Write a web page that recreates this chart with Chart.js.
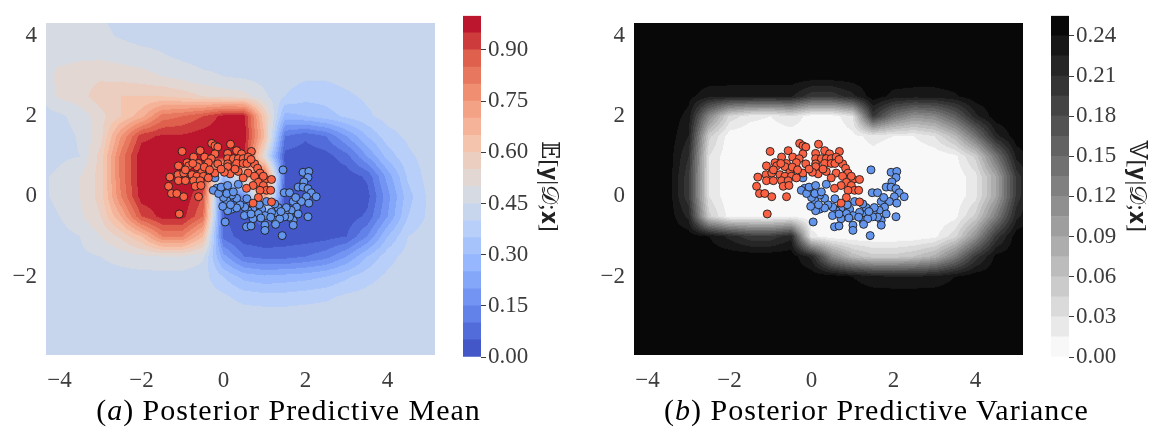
<!DOCTYPE html>
<html>
<head>
<meta charset="utf-8">
<script src="https://cdn.jsdelivr.net/npm/chart.js@4.4.0/dist/chart.umd.min.js"></script>
<style>
  body { margin: 0; background: #fff; width: 1154px; height: 434px; position: relative; overflow: hidden; }
  canvas { position: absolute; top: 0; }
  .cap { position: absolute; top: 393px; width: 577px; text-align: center; font: 30px "Liberation Serif", serif; letter-spacing: 1px; line-height: 34px; color: #000; }
</style>
</head>
<body>
<canvas id="meanPlot" width="440" height="400" style="left:0"></canvas>
<canvas id="meanBar" width="126" height="400" style="left:440px"></canvas>
<canvas id="varPlot" width="440" height="400" style="left:588px"></canvas>
<canvas id="varBar" width="126" height="400" style="left:1028px"></canvas>
<div class="cap" style="left:0">(<i>a</i>) Posterior Predictive Mean</div>
<div class="cap" style="left:588px">(<i>b</i>) Posterior Predictive Variance</div>
<script>
// axis ticks
const xTicks = [-4, -2, 0, 2, 4];
const yTicks = [-2, 0, 2, 4];
const meanTicks = [0, 0.15, 0.3, 0.45, 0.6, 0.75, 0.9];
const varTicks = [0, 0.03, 0.06, 0.09, 0.12, 0.15, 0.18, 0.21, 0.24];

// contour levels
const meanLevels = [0, 0.05, 0.1, 0.15, 0.2, 0.25, 0.3, 0.35, 0.4, 0.45, 0.5, 0.55, 0.6, 0.65, 0.7, 0.75, 0.8, 0.85, 0.9, 0.95, 1.0];
const varLevels = [0, 0.015, 0.03, 0.045, 0.06, 0.075, 0.09, 0.105, 0.12, 0.135, 0.15, 0.165, 0.18, 0.195, 0.21, 0.225, 0.24, 0.255];

// training points (two moons)
const redX = [-1.01, -0.57, -0.29, -0.21, -0.14, 0.17, 0.32, 0.44, 0.68, 0.10, -0.21, -0.73, -0.46, -0.30, 0.10, 0.24, 0.36, 0.48, 0.60, 0.76,
  -0.89, -0.61, -0.37, -0.14, 0.10, 0.32, 0.48, 0.83, -1.10, -0.85, -0.65, -0.53, -0.21, 0.16, 0.36, 0.60, 0.89, 1.01, -1.31, -1.11,
  -0.97, -0.77, -0.65, -0.49, -0.37, -1.10, -0.93, -0.73, -0.57, 0.76, 0.97, 1.17, 0.85, 0.97, 1.05, -1.34, -0.69, -0.55, -1.27, -1.14,
  -0.97, -0.61, 0.48, 0.72, 0.89, 0.56, 0.85, 0.72, 1.17, -1.08, 0.10, 0.16, 0.28, -0.93, -0.47, 0.02, 1.15, -0.06, 0.57, -0.34,
  -0.75, 0.67];
const redY = [1.12, 1.14, 1.32, 1.26, 1.23, 1.30, 1.14, 1.06, 1.12, 1.07, 1.06, 0.98, 0.98, 0.94, 0.94, 0.94, 0.94, 0.94, 0.98, 0.81,
  0.84, 0.82, 0.84, 0.81, 0.81, 0.82, 0.82, 0.70, 0.76, 0.76, 0.74, 0.60, 0.58, 0.62, 0.62, 0.58, 0.58, 0.42, 0.48, 0.54,
  0.58, 0.54, 0.50, 0.50, 0.46, 0.39, 0.39, 0.39, 0.39, 0.50, 0.50, 0.42, 0.35, 0.27, 0.15, 0.25, 0.25, 0.27, 0.07, 0.07,
  -0.01, -0.01, 0.46, 0.27, 0.15, 0.20, -0.03, -0.17, -0.14, -0.44, 0.74, 0.56, 0.68, 0.66, 0.73, 0.60, 0.15, 0.68, 0.82, 0.66,
  0.82, 0.92];
const blueX = [1.45, 1.94, 2.08, 2.06, 1.96, 1.82, 1.94, 2.06, 2.14, 2.26, 2.02, 1.90, 1.70, 1.78, 1.65, 1.48, 1.61, 2.06, 1.70, 1.43,
  1.29, 1.17, 1.33, 1.51, 1.25, 1.05, 0.93, 1.01, 0.85, 0.72, 0.60, 0.51, 0.56, 0.72, 1.01, 1.01, 1.25, 0.52, 0.40, 0.32,
  0.20, 0.08, 0.00, -0.04, -0.17, -0.25, -0.12, 0.08, 0.24, 0.36, -0.06, -0.21, 0.16, 0.04, 0.20, 0.10, 0.32, 1.53, 1.70, 1.61,
  1.82, 1.49, 1.37, 2.08, 1.27, 0.87, 0.67, 0.67, 0.91, 0.17, 0.10, -0.51, 0.57, 1.15, 1.40, 1.76, -0.02];
const blueY = [0.66, 0.60, 0.62, 0.47, 0.36, 0.23, 0.23, 0.19, 0.09, -0.01, -0.01, -0.13, -0.13, -0.27, -0.35, 0.09, 0.09, -0.51, -0.60, -0.98,
  -0.46, -0.40, -0.28, -0.43, -0.19, -0.13, -0.32, -0.48, -0.43, -0.29, -0.36, -0.48, -0.76, -0.56, -0.72, -0.85, -0.60, -0.27, -0.21, -0.05,
  0.03, -0.11, -0.03, 0.13, 0.20, 0.15, 0.07, 0.07, 0.11, 0.30, 0.23, 0.46, 0.58, -0.64, -0.32, -0.36, -0.29, -0.28, -0.72, -0.52,
  -0.44, -0.51, -0.56, -0.17, -0.70, -0.21, -0.44, -0.74, -0.54, -0.21, 0.27, 0.66, -0.06, -0.52, -0.38, -0.03, -0.25];

// field grid nodes (x left->right, y top->bottom)
const gridX = [-4.5, -4, -3.5, -3, -2.5, -2, -1.5, -1, -0.5, 0, 0.5, 1, 1.5, 2, 2.5, 3, 3.5, 4, 4.5, 5, 5.5];
const gridY = [4.5, 4, 3.5, 3, 2.5, 2, 1.5, 1, 0.5, 0, -0.5, -1, -1.5, -2, -2.5, -3, -3.5, -4];

// predictive mean
const meanGrid = [
  [.47, .47, .46, .45, .44, .43, .43, .43, .43, .43, .43, .43, .43, .43, .43, .43, .43, .43, .43, .43, .43],
  [.47, .47, .47, .46, .445, .43, .43, .43, .43, .43, .43, .43, .43, .43, .43, .43, .43, .43, .43, .43, .43],
  [.47, .48, .49, .49, .48, .47, .455, .44, .43, .43, .43, .43, .43, .43, .43, .43, .43, .43, .43, .43, .43],
  [.46, .52, .53, .54, .53, .52, .5, .48, .46, .45, .44, .43, .42, .41, .41, .42, .43, .43, .43, .43, .43],
  [.44, .51, .53, .58, .6, .6, .6, .58, .55, .53, .52, .46, .40, .37, .37, .39, .41, .42, .43, .43, .43],
  [.43, .44, .47, .53, .6, .68, .82, .85, .9, .97, .97, .6, .28, .3, .33, .36, .39, .42, .43, .43, .43],
  [.43, .43, .455, .53, .75, .93, .96, .96, .98, .99, .98, .65, .1, .06, .1, .2, .3, .38, .41, .43, .43],
  [.43, .44, .45, .57, .82, .99, .99, .99, .99, .99, .97, .5, .03, .02, .03, .08, .2, .32, .39, .42, .43],
  [.44, .46, .5, .57, .82, .99, .99, .99, .97, .3, .6, .9, .05, .01, .01, .02, .06, .22, .36, .42, .43],
  [.44, .46, .5, .57, .8, .98, .99, .99, .9, .05, .15, .75, .02, .01, .01, .01, .03, .18, .33, .41, .43],
  [.43, .45, .49, .55, .7, .9, .97, .97, .85, .05, .01, .1, .01, .01, .01, .02, .06, .2, .35, .41, .43],
  [.43, .43, .45, .5, .56, .65, .8, .8, .65, .08, .02, .01, .02, .02, .03, .05, .15, .3, .4, .43, .43],
  [.43, .43, .44, .45, .47, .49, .5, .5, .46, .22, .1, .08, .08, .1, .13, .2, .3, .38, .42, .43, .43],
  [.43, .43, .43, .43, .43, .43, .43, .43, .42, .35, .28, .26, .27, .28, .3, .34, .38, .41, .43, .43, .43],
  [.43, .43, .43, .43, .43, .43, .43, .43, .43, .41, .38, .37, .37, .38, .39, .41, .42, .43, .43, .43, .43],
  [.43, .43, .43, .43, .43, .43, .43, .43, .43, .43, .43, .43, .43, .43, .43, .43, .43, .43, .43, .43, .43],
  [.43, .43, .43, .43, .43, .43, .43, .43, .43, .43, .43, .43, .43, .43, .43, .43, .43, .43, .43, .43, .43],
  [.43, .43, .43, .43, .43, .43, .43, .43, .43, .43, .43, .43, .43, .43, .43, .43, .43, .43, .43, .43, .43]
];

// predictive variance
const varGrid = [
  [.25, .25, .25, .25, .25, .25, .25, .25, .25, .25, .25, .25, .25, .25, .25, .25, .25, .25, .25, .25, .25],
  [.25, .25, .25, .25, .25, .25, .25, .25, .25, .25, .25, .25, .25, .25, .25, .25, .25, .25, .25, .25, .25],
  [.25, .25, .25, .25, .25, .25, .25, .25, .25, .25, .25, .25, .25, .25, .25, .25, .25, .25, .25, .25, .25],
  [.25, .25, .25, .25, .25, .25, .25, .25, .25, .25, .25, .25, .25, .25, .25, .25, .25, .25, .25, .25, .25],
  [.25, .25, .25, .245, .23, .228, .228, .228, .228, .2, .2, .22, .25, .235, .232, .232, .238, .25, .25, .25, .25],
  [.25, .25, .25, .235, .12, .04, .02, .015, .03, .005, .005, .03, .2, .14, .11, .12, .16, .22, .25, .25, .25],
  [.25, .25, .25, .225, .05, .005, .003, .003, .003, .002, .002, .01, .02, .015, .015, .03, .07, .14, .22, .25, .25],
  [.25, .25, .25, .21, .03, .003, .001, .001, .001, .001, .001, .005, .01, .002, .001, .003, .01, .05, .14, .23, .25],
  [.25, .25, .25, .2, .03, .003, .001, .001, .001, .001, .001, .001, .001, .001, .001, .002, .004, .025, .09, .2, .25],
  [.25, .25, .25, .2, .03, .003, .001, .001, .001, .001, .001, .001, .001, .001, .001, .002, .004, .025, .09, .2, .25],
  [.25, .25, .25, .22, .05, .008, .008, .006, .01, .005, .001, .001, .001, .001, .001, .002, .01, .05, .13, .22, .25],
  [.25, .25, .25, .25, .24, .22, .2, .2, .22, .02, .005, .003, .003, .003, .004, .01, .04, .11, .2, .25, .25],
  [.25, .25, .25, .25, .25, .25, .25, .25, .25, .22, .12, .07, .05, .05, .06, .08, .13, .2, .245, .25, .25],
  [.25, .25, .25, .25, .25, .25, .25, .25, .25, .25, .25, .24, .228, .225, .225, .228, .24, .25, .25, .25, .25],
  [.25, .25, .25, .25, .25, .25, .25, .25, .25, .25, .25, .25, .25, .25, .25, .25, .25, .25, .25, .25, .25],
  [.25, .25, .25, .25, .25, .25, .25, .25, .25, .25, .25, .25, .25, .25, .25, .25, .25, .25, .25, .25, .25],
  [.25, .25, .25, .25, .25, .25, .25, .25, .25, .25, .25, .25, .25, .25, .25, .25, .25, .25, .25, .25, .25],
  [.25, .25, .25, .25, .25, .25, .25, .25, .25, .25, .25, .25, .25, .25, .25, .25, .25, .25, .25, .25, .25]
];

const SERIF = "'Liberation Serif', 'DejaVu Serif', 'DejaVu Sans', serif";
const TICK_COLOR = '#3c3c3c';
Chart.defaults.font.family = SERIF;

// coolwarm anchors
const coolwarm = [[59, 76, 192], [98, 130, 234], [141, 176, 254], [184, 208, 249], [221, 220, 220],
  [245, 196, 173], [244, 154, 123], [222, 96, 77], [180, 4, 38]];
function coolwarmAt(t) {
  const p = Math.min(Math.max(t, 0), 1) * (coolwarm.length - 1);
  const i = Math.min(Math.floor(p), coolwarm.length - 2), f = p - i;
  return coolwarm[i].map((c, k) => Math.round(c + (coolwarm[i + 1][k] - c) * f));
}
function grayRAt(t) {
  const g = Math.round(255 * (1 - t));
  return [g, g, g];
}
function bandColors(levels, cmap) {
  const lo = levels[0], hi = levels[levels.length - 1];
  const out = [];
  for (let k = 0; k < levels.length - 1; k++) {
    out.push(cmap(((levels[k] + levels[k + 1]) / 2 - lo) / (hi - lo)));
  }
  return out;
}
const meanColors = bandColors(meanLevels, coolwarmAt);
const varColors = bandColors(varLevels, grayRAt);

function locate(nodes, v) {
  const asc = nodes[1] > nodes[0];
  for (let i = 0; i < nodes.length - 2; i++) {
    const b = nodes[i + 1];
    if ((asc && v <= b) || (!asc && v >= b)) return [i, (v - nodes[i]) / (b - nodes[i])];
  }
  const n = nodes.length - 2;
  return [n, (v - nodes[n]) / (nodes[n + 1] - nodes[n])];
}

// filled contour drawn under the points
function contourPlugin(field, levels, colors) {
  return {
    id: 'contour',
    beforeDatasetsDraw(chart) {
      const {ctx, chartArea: a, scales: {x: sx, y: sy}} = chart;
      const w = Math.round(a.right - a.left), h = Math.round(a.bottom - a.top);
      const off = document.createElement('canvas');
      off.width = w; off.height = h;
      const octx = off.getContext('2d');
      const img = octx.createImageData(w, h);
      const cols = [];
      for (let i = 0; i < w; i++) cols.push(locate(gridX, sx.getValueForPixel(a.left + i + 0.5)));
      for (let j = 0; j < h; j++) {
        const [r, fy] = locate(gridY, sy.getValueForPixel(a.top + j + 0.5));
        const r0 = field[r], r1 = field[r + 1];
        for (let i = 0; i < w; i++) {
          const [c, fx] = cols[i];
          const top = r0[c] + (r0[c + 1] - r0[c]) * fx;
          const bot = r1[c] + (r1[c + 1] - r1[c]) * fx;
          const v = top + (bot - top) * fy;
          let k = 0;
          while (k < colors.length - 1 && v >= levels[k + 1]) k++;
          const col = colors[k], p = (j * w + i) * 4;
          img.data[p] = col[0]; img.data[p + 1] = col[1]; img.data[p + 2] = col[2]; img.data[p + 3] = 255;
        }
      }
      octx.putImageData(img, 0, 0);
      ctx.drawImage(off, a.left, a.top);
    }
  };
}

const toPoints = (xs, ys) => xs.map((x, i) => ({x, y: ys[i]}));
const minusSign = v => String(v).replace('-', '\u2212');

function makePanel(id, field, levels, colors) {
  return new Chart(document.getElementById(id), {
    type: 'scatter',
    data: {
      datasets: [
        {data: toPoints(redX, redY), backgroundColor: 'rgb(250,96,66)', borderColor: '#1e1e1e', borderWidth: 0.9, pointRadius: 4},
        {data: toPoints(blueX, blueY), backgroundColor: 'rgb(100,149,237)', borderColor: '#1e1e1e', borderWidth: 0.9, pointRadius: 4}
      ]
    },
    options: {
      responsive: false, animation: false, devicePixelRatio: 1,
      layout: {padding: {top: 5, right: 2, left: 0, bottom: 0}},
      plugins: {legend: {display: false}, tooltip: {enabled: false}},
      scales: {
        x: {
          type: 'linear', min: -4.33, max: 5.16,
          afterBuildTicks: s => { s.ticks = xTicks.map(v => ({value: v})); },
          afterFit: s => { s.height = 45; },
          grid: {display: false, drawTicks: false}, border: {display: false},
          ticks: {callback: minusSign, color: TICK_COLOR, font: {size: 23}, padding: 12}
        },
        y: {
          type: 'linear', min: -3.96, max: 4.33,
          afterBuildTicks: s => { s.ticks = yTicks.map(v => ({value: v})); },
          afterFit: s => { s.width = 46; },
          grid: {display: false, drawTicks: false}, border: {display: false},
          ticks: {callback: minusSign, color: TICK_COLOR, font: {size: 23}, padding: 9}
        }
      }
    },
    plugins: [contourPlugin(field, levels, colors)]
  });
}

function makeColorbar(id, levels, colors, ticks, label) {
  const datasets = colors.map((c, k) => ({
    data: [levels[k + 1] - levels[k]],
    backgroundColor: 'rgb(' + c.join(',') + ')',
    borderWidth: 0, barPercentage: 1, categoryPercentage: 1
  }));
  return new Chart(document.getElementById(id), {
    type: 'bar',
    data: {labels: [''], datasets},
    options: {
      responsive: false, animation: false, devicePixelRatio: 1,
      layout: {padding: {top: 6, left: 23, right: 0, bottom: 43}},
      plugins: {legend: {display: false}, tooltip: {enabled: false}},
      scales: {
        x: {display: false, stacked: true},
        y: {
          stacked: true, position: 'right', min: levels[0], max: levels[levels.length - 1],
          afterBuildTicks: s => { s.ticks = ticks.map(v => ({value: v})); },
          afterFit: s => { s.width = 85; },
          grid: {drawOnChartArea: false, drawTicks: true, tickLength: 5, color: TICK_COLOR},
          border: {display: false},
          ticks: {callback: v => v.toFixed(2), color: TICK_COLOR, font: {size: 23}, padding: 2},
          title: {display: true, text: label, color: '#222', font: {size: 24}, padding: {top: 3}}
        }
      }
    }
  });
}

makePanel('meanPlot', meanGrid, meanLevels, meanColors);
makeColorbar('meanBar', meanLevels, meanColors, meanTicks, '𝔼[𝐲|𝒟;𝐱]');
makePanel('varPlot', varGrid, varLevels, varColors);
makeColorbar('varBar', varLevels, varColors, varTicks, '𝕍[𝐲|𝒟;𝐱]');
</script>
</body>
</html>
